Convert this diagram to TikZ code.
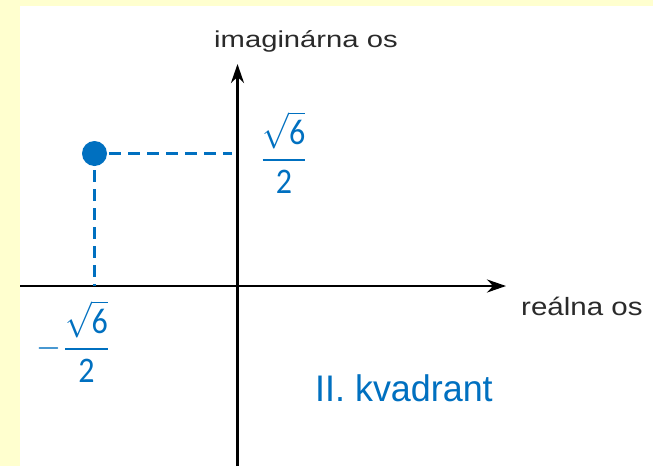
\documentclass[tikz,border=0pt]{standalone}
\usepackage{fontspec}
\usepackage{amsmath}
\setmainfont{Liberation Sans}
\newfontfamily\carl{Carlito}
\usetikzlibrary{arrows.meta}
\definecolor{bgyellow}{HTML}{FFFFCF}
\definecolor{ptblue}{HTML}{0070C0}
\definecolor{lblgray}{HTML}{2A2A2A}
\tikzset{
  axis/.style={line width=2.8pt, black, -{Stealth[length=19pt,width=13pt]}},
  proj/.style={line width=2.8pt, ptblue, dash pattern=on 12pt off 7pt},
  axlabel/.style={inner sep=0pt, text=lblgray},
  frac/.style={inner sep=0pt, text=ptblue},
}
\newcommand{\myfrac}{\genfrac{}{}{0.75pt}{0}{\sqrt{\hbox{\carl 6}}}{\hbox{\carl 2}}}
\begin{document}
\begin{tikzpicture}[x=1pt,y=-1pt]
  \fill[bgyellow] (0,0) rectangle (653,466);
  \fill[white] (20,6) rectangle (653,466);
  \useasboundingbox (0,0) rectangle (653,466);
  % axes
  \coordinate (xs) at (20,286);
  \coordinate (xe) at (506,286);
  \coordinate (ys) at (237.5,466);
  \coordinate (ye) at (237.5,64);
  \draw[axis] (xs) -- (xe);
  \draw[axis] (ys) -- (ye);
  % point and projections
  \node[circle, fill=ptblue, minimum size=25pt, inner sep=0pt] (P) at (94.5,153.5) {};
  \coordinate (Py) at (232,153.5);
  \coordinate (Px) at (94.5,286);
  \draw[proj] (P.east) ++(2,0) -- (Py);
  \draw[proj] (P.south) ++(0,4) -- (Px);
  % labels
  \node[axlabel, anchor=base west] (imlab) at (214,47.5)
    {\fontsize{23}{23}\selectfont\scalebox{1.27}[1]{imaginárna os}};
  \node[axlabel, anchor=base west] (relab) at (521,315)
    {\fontsize{25}{25}\selectfont\scalebox{1.18}[1]{reálna os}};
  \node[inner sep=0pt, anchor=base west, text=ptblue] (kv) at (315,401.5)
    {\fontsize{37}{37}\selectfont\scalebox{0.97}[1]{II. kvadrant}};
  \node[frac] (fy) at (284,152.5)
    {\scalebox{3.2}[3.6]{$\myfrac$}};
  \node[frac] (fx) at (74,341.5)
    {\scalebox{3.2}[3.6]{$-\myfrac$}};
\end{tikzpicture}
\end{document}
